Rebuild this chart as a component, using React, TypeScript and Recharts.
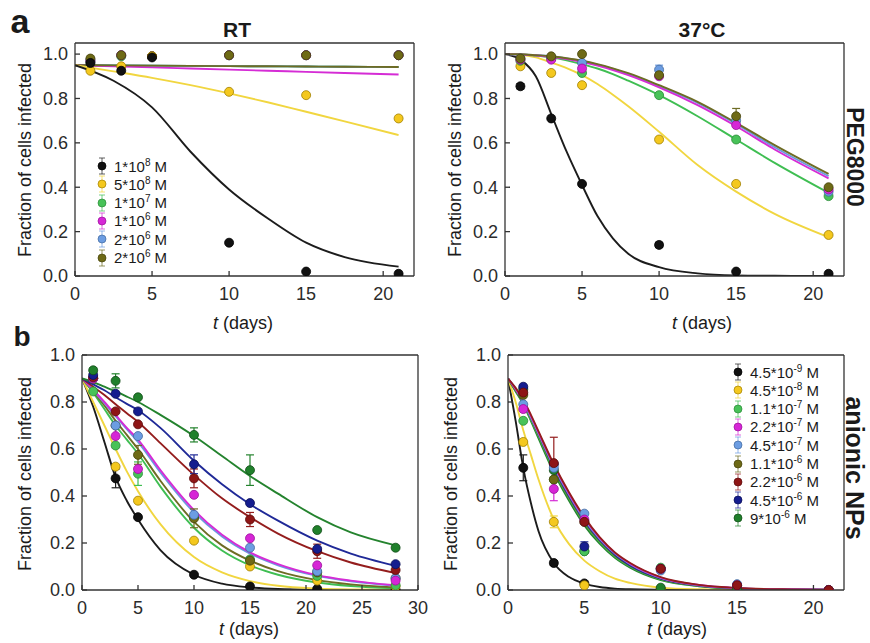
import React from 'react';
import { ComposedChart, Line, Scatter, XAxis, YAxis, ErrorBar } from 'recharts';

const FONT = '"Liberation Sans", Arial, Helvetica, sans-serif';

// ---- panel a, RT ----
const rtDays = [1, 3, 5, 10, 15, 21];
const rtBlack = [0.96, 0.925, 0.985, 0.15, 0.02, 0.01];
const rtYellow = [0.925, 0.945, 0.99, 0.83, 0.815, 0.71];
const rtGreen = [0.965, 0.99, 0.99, 0.995, 0.995, 0.995];
const rtMagenta = [0.97, 0.995, 0.99, 0.995, 0.995, 0.995];
const rtBlue = [0.975, 0.995, 0.99, 0.995, 0.995, 0.995];
const rtOlive = [0.98, 0.995, 0.99, 0.995, 0.995, 0.995];

const rtFitDays = [0, 2.5, 5, 7.5, 10, 12.5, 15, 17.5, 21];
const rtFitBlack = [0.95, 0.88, 0.76, 0.56, 0.39, 0.26, 0.15, 0.085, 0.042];
const rtFitYellow = [0.95, 0.922, 0.893, 0.86, 0.823, 0.783, 0.74, 0.697, 0.635];
const rtFitGreen = [0.95, 0.949, 0.948, 0.947, 0.946, 0.945, 0.944, 0.943, 0.942];
const rtFitMagenta = [0.95, 0.945, 0.94, 0.935, 0.93, 0.925, 0.92, 0.915, 0.908];
const rtFitBlue = [0.95, 0.949, 0.948, 0.947, 0.946, 0.945, 0.944, 0.943, 0.942];
const rtFitOlive = [0.95, 0.949, 0.948, 0.947, 0.946, 0.945, 0.944, 0.943, 0.942];

// ---- panel a, 37°C ----
const hotDays = [1, 3, 5, 10, 15, 21];
const hotBlack = [0.855, 0.71, 0.415, 0.14, 0.02, 0.01];
const hotYellow = [0.945, 0.915, 0.86, 0.615, 0.415, 0.185];
const hotGreen = [0.97, 0.98, 0.915, 0.815, 0.615, 0.36];
const hotMagenta = [0.975, 0.975, 0.935, 0.9, 0.68, 0.39];
const hotBlue = [0.98, 0.985, 0.96, 0.93, 0.7, 0.38];
const hotOlive = [0.98, 0.99, 1.0, 0.905, 0.72, 0.4];
const hotErrBlack = [0.012, 0, 0, 0.012, 0, 0];
const hotErrBlue = [0, 0, 0, 0.02, 0, 0];
const hotErrOlive = [0, 0, 0, 0, 0.035, 0];

const hotFitDays = [0, 1, 2, 3, 4, 5, 6, 7, 8, 10, 12.5, 15, 17.5, 21];
const hotFitBlack = [1.0, 0.975, 0.9, 0.73, 0.56, 0.41, 0.27, 0.17, 0.1, 0.04, 0.012, 0.003, 0.001, 0];
const hotFitYellow = [1.0, 0.997, 0.985, 0.962, 0.937, 0.905, 0.865, 0.817, 0.765, 0.65, 0.5, 0.38, 0.28, 0.175];
const hotFitGreen = [1.0, 0.998, 0.993, 0.985, 0.972, 0.955, 0.935, 0.91, 0.88, 0.815, 0.72, 0.615, 0.51, 0.375];
const hotFitMagenta = [1.0, 0.998, 0.994, 0.988, 0.978, 0.965, 0.948, 0.928, 0.905, 0.85, 0.77, 0.675, 0.57, 0.44];
const hotFitBlue = [1.0, 0.998, 0.995, 0.99, 0.98, 0.968, 0.952, 0.933, 0.91, 0.855, 0.78, 0.685, 0.58, 0.45];
const hotFitOlive = [1.0, 0.999, 0.995, 0.99, 0.981, 0.97, 0.955, 0.936, 0.914, 0.86, 0.785, 0.69, 0.59, 0.46];

// ---- panel b, left ----
const npDays = [1, 3, 5, 10, 15, 21, 28];
const npBlack = [0.9, 0.475, 0.31, 0.065, 0.015, 0.005, 0.0];
const npYellow = [0.9, 0.525, 0.38, 0.21, 0.1, 0.04, 0.015];
const npGreen = [0.845, 0.615, 0.495, 0.31, 0.13, 0.06, 0.02];
const npMagenta = [0.9, 0.655, 0.515, 0.405, 0.22, 0.105, 0.04];
const npBlue = [0.9, 0.7, 0.655, 0.32, 0.18, 0.08, 0.05];
const npOlive = [0.9, 0.7, 0.575, 0.305, 0.125, 0.075, 0.05];
const npRed = [0.905, 0.76, 0.705, 0.475, 0.3, 0.165, 0.085];
const npNavy = [0.915, 0.835, 0.76, 0.535, 0.37, 0.175, 0.11];
const npDkGreen = [0.935, 0.89, 0.82, 0.66, 0.51, 0.255, 0.18];
const npErrBlack = [0, 0.04, 0, 0, 0, 0, 0];
const npErrGreen = [0, 0, 0.05, 0, 0, 0, 0];
const npErrMagenta = [0, 0.05, 0, 0, 0, 0, 0];
const npErrOlive = [0, 0, 0.04, 0.04, 0, 0, 0];
const npErrRed = [0, 0, 0, 0.04, 0.03, 0.03, 0];
const npErrNavy = [0, 0, 0, 0.04, 0, 0, 0];
const npErrDkGreen = [0.01, 0.03, 0, 0.03, 0.065, 0, 0];

const npFitDays = [0, 1, 2, 3, 4, 5, 7, 10, 12.5, 15, 17.5, 21, 24, 28];
const npFitBlack = [0.9, 0.78, 0.63, 0.48, 0.38, 0.3, 0.17, 0.065, 0.027, 0.011, 0.004, 0.001, 0, 0];
const npFitYellow = [0.9, 0.8, 0.7, 0.6, 0.505, 0.42, 0.28, 0.14, 0.075, 0.038, 0.018, 0.006, 0.002, 0.001];
const npFitGreen = [0.9, 0.84, 0.77, 0.7, 0.64, 0.58, 0.44, 0.265, 0.168, 0.105, 0.065, 0.032, 0.017, 0.007];
const npFitOlive = [0.9, 0.845, 0.785, 0.72, 0.66, 0.6, 0.465, 0.29, 0.19, 0.125, 0.08, 0.042, 0.024, 0.011];
const npFitBlue = [0.9, 0.85, 0.795, 0.74, 0.685, 0.63, 0.5, 0.33, 0.228, 0.155, 0.105, 0.06, 0.037, 0.018];
const npFitMagenta = [0.9, 0.852, 0.8, 0.745, 0.69, 0.64, 0.51, 0.34, 0.235, 0.16, 0.11, 0.063, 0.04, 0.02];
const npFitRed = [0.9, 0.865, 0.83, 0.79, 0.752, 0.715, 0.625, 0.49, 0.39, 0.31, 0.24, 0.165, 0.117, 0.072];
const npFitNavy = [0.9, 0.875, 0.85, 0.82, 0.792, 0.765, 0.69, 0.55, 0.45, 0.365, 0.295, 0.21, 0.155, 0.103];
const npFitDkGreen = [0.9, 0.885, 0.865, 0.845, 0.823, 0.8, 0.745, 0.655, 0.57, 0.485, 0.41, 0.31, 0.245, 0.19];

// ---- panel b, right ----
const np2Days = [1, 3, 5, 10, 15, 21];
const np2Black = [0.52, 0.115, 0.028, 0.003, 0.001, 0.0];
const np2Yellow = [0.63, 0.29, 0.02, 0.005, 0.002, 0.0];
const np2Green = [0.72, 0.47, 0.165, 0.095, 0.02, 0.0];
const np2Magenta = [0.77, 0.43, 0.3, 0.09, 0.02, 0.0];
const np2Blue = [0.79, 0.52, 0.325, 0.083, 0.025, 0.0];
const np2Olive = [0.83, 0.47, 0.29, 0.09, 0.02, 0.0];
const np2Red = [0.84, 0.54, 0.29, 0.09, 0.02, 0.0];
const np2Navy = [0.865, 0.535, 0.185, 0.09, 0.02, 0.0];
const np2DkGreen = [0.855, 0.51, 0.165, 0.01, 0.005, 0.0];
const np2ErrBlack = [0.055, 0.01, 0, 0, 0, 0];
const np2ErrYellow = [0, 0.025, 0, 0, 0, 0];
const np2ErrMagenta = [0, 0.05, 0, 0, 0, 0];
const np2ErrRed = [0, 0.11, 0, 0, 0, 0];
const np2ErrNavy = [0, 0, 0.02, 0, 0, 0];

const np2FitDays = [0, 0.5, 1, 1.5, 2, 3, 4, 5, 6, 7, 8, 10, 12.5, 15, 18, 21];
const np2FitBlack = [0.9, 0.72, 0.52, 0.37, 0.25, 0.115, 0.055, 0.027, 0.013, 0.006, 0.003, 0.001, 0, 0, 0, 0];
const np2FitYellow = [0.9, 0.8, 0.68, 0.575, 0.47, 0.3, 0.195, 0.125, 0.08, 0.048, 0.03, 0.01, 0.003, 0.001, 0, 0];
const np2FitGreen = [0.9, 0.85, 0.795, 0.725, 0.655, 0.51, 0.39, 0.285, 0.205, 0.143, 0.1, 0.045, 0.017, 0.006, 0.002, 0];
const np2FitMagenta = [0.9, 0.855, 0.805, 0.74, 0.67, 0.53, 0.41, 0.305, 0.222, 0.158, 0.112, 0.053, 0.021, 0.008, 0.003, 0.001];
const np2FitBlue = [0.9, 0.855, 0.8, 0.735, 0.665, 0.525, 0.405, 0.3, 0.218, 0.155, 0.11, 0.052, 0.02, 0.008, 0.003, 0.001];
const np2FitOlive = [0.9, 0.85, 0.8, 0.73, 0.66, 0.515, 0.395, 0.29, 0.21, 0.147, 0.103, 0.047, 0.018, 0.007, 0.002, 0];
const np2FitRed = [0.9, 0.86, 0.81, 0.745, 0.675, 0.535, 0.415, 0.31, 0.225, 0.16, 0.115, 0.055, 0.022, 0.009, 0.003, 0.001];
const np2FitNavy = [0.9, 0.855, 0.8, 0.735, 0.665, 0.52, 0.4, 0.295, 0.213, 0.15, 0.105, 0.049, 0.019, 0.007, 0.002, 0.001];
const np2FitDkGreen = [0.9, 0.845, 0.79, 0.72, 0.645, 0.5, 0.38, 0.275, 0.197, 0.137, 0.095, 0.042, 0.016, 0.006, 0.002, 0];

// ticks and legends
const xTicksA = [0, 5, 10, 15, 20];
const xTicksB = [0, 5, 10, 15, 20, 25, 30];
const yTicks = [0, 0.2, 0.4, 0.6, 0.8, 1.0];
const legendAMant = ['1', '5', '1', '1', '2', '2'];
const legendAExp = ['8', '8', '7', '6', '6', '6'];
const legendBMant = ['4.5', '4.5', '1.1', '2.2', '4.5', '1.1', '2.2', '4.5', '9'];
const legendBExp = ['-9', '-8', '-7', '-7', '-7', '-6', '-6', '-6', '-6'];

type Col = { fill: string; edge: string; line: string };
const BLACK: Col = { fill: '#111111', edge: '#000000', line: '#1c1c1c' };
const YELLOW: Col = { fill: '#f4c81e', edge: '#a07f00', line: '#f1d640' };
const GREEN: Col = { fill: '#48c258', edge: '#2a8a36', line: '#3fbe52' };
const MAGENTA: Col = { fill: '#d626d6', edge: '#9a109a', line: '#d52cd5' };
const BLUE: Col = { fill: '#6c9de2', edge: '#41689e', line: '#6a9ae0' };
const OLIVE: Col = { fill: '#6e6a16', edge: '#45420a', line: '#6e6c24' };
const RED: Col = { fill: '#8e1616', edge: '#5a0a0a', line: '#941d1d' };
const NAVY: Col = { fill: '#151d8f', edge: '#0a0f55', line: '#1f2997' };
const DKGREEN: Col = { fill: '#20802b', edge: '#104a16', line: '#24832e' };

type Series = { c: Col; fit: number[]; vals: number[]; errs?: number[] };

const rtSeries: Series[] = [
  { c: GREEN, fit: rtFitGreen, vals: rtGreen },
  { c: BLUE, fit: rtFitBlue, vals: rtBlue },
  { c: MAGENTA, fit: rtFitMagenta, vals: rtMagenta },
  { c: OLIVE, fit: rtFitOlive, vals: rtOlive },
  { c: YELLOW, fit: rtFitYellow, vals: rtYellow },
  { c: BLACK, fit: rtFitBlack, vals: rtBlack },
];
const hotSeries: Series[] = [
  { c: BLACK, fit: hotFitBlack, vals: hotBlack, errs: hotErrBlack },
  { c: YELLOW, fit: hotFitYellow, vals: hotYellow },
  { c: GREEN, fit: hotFitGreen, vals: hotGreen },
  { c: BLUE, fit: hotFitBlue, vals: hotBlue, errs: hotErrBlue },
  { c: MAGENTA, fit: hotFitMagenta, vals: hotMagenta },
  { c: OLIVE, fit: hotFitOlive, vals: hotOlive, errs: hotErrOlive },
];
const npSeries: Series[] = [
  { c: BLACK, fit: npFitBlack, vals: npBlack, errs: npErrBlack },
  { c: YELLOW, fit: npFitYellow, vals: npYellow },
  { c: GREEN, fit: npFitGreen, vals: npGreen, errs: npErrGreen },
  { c: OLIVE, fit: npFitOlive, vals: npOlive, errs: npErrOlive },
  { c: BLUE, fit: npFitBlue, vals: npBlue },
  { c: MAGENTA, fit: npFitMagenta, vals: npMagenta, errs: npErrMagenta },
  { c: RED, fit: npFitRed, vals: npRed, errs: npErrRed },
  { c: NAVY, fit: npFitNavy, vals: npNavy, errs: npErrNavy },
  { c: DKGREEN, fit: npFitDkGreen, vals: npDkGreen, errs: npErrDkGreen },
];
const np2Series: Series[] = [
  { c: BLACK, fit: np2FitBlack, vals: np2Black, errs: np2ErrBlack },
  { c: YELLOW, fit: np2FitYellow, vals: np2Yellow, errs: np2ErrYellow },
  { c: DKGREEN, fit: np2FitDkGreen, vals: np2DkGreen },
  { c: GREEN, fit: np2FitGreen, vals: np2Green },
  { c: OLIVE, fit: np2FitOlive, vals: np2Olive },
  { c: NAVY, fit: np2FitNavy, vals: np2Navy, errs: np2ErrNavy },
  { c: BLUE, fit: np2FitBlue, vals: np2Blue },
  { c: MAGENTA, fit: np2FitMagenta, vals: np2Magenta, errs: np2ErrMagenta },
  { c: RED, fit: np2FitRed, vals: np2Red, errs: np2ErrRed },
];

const AXIS = { stroke: '#333', strokeWidth: 1.3 };
const TICK = { fontSize: 18, fill: '#2b2b2b', fontFamily: FONT };

type PanelProps = {
  plot: [number, number, number, number];
  xDomain: [number, number];
  yDomain: [number, number];
  xTicks: number[];
  days: number[];
  fitDays: number[];
  series: Series[];
};

function Panel({ plot, xDomain, yDomain, xTicks, days, fitDays, series }: PanelProps) {
  const [x0, y0, x1, y1] = plot;
  const yw = 60, mt = 9, mr = 9, xh = 30;
  const width = x1 - x0 + yw + 1 + mr;
  const height = y1 - y0 + mt + 1 + xh;
  return (
    <div style={{ position: 'absolute', left: x0 - yw, top: y0 - mt - 1 }}>
      <ComposedChart width={width} height={height} margin={{ top: mt, right: mr, bottom: 0, left: 0 }}>
        <XAxis xAxisId="b" dataKey="t" type="number" domain={xDomain} ticks={xTicks} allowDataOverflow
          height={xh} axisLine={AXIS} tickLine={AXIS} tickSize={-5} tickMargin={16} tick={TICK} interval={0} />
        <XAxis xAxisId="top" orientation="top" type="number" domain={xDomain} ticks={xTicks} allowDataOverflow
          height={1} axisLine={AXIS} tickLine={AXIS} tickSize={-5} tick={false} interval={0} />
        <YAxis yAxisId="l" type="number" domain={yDomain} ticks={yTicks} allowDataOverflow width={yw}
          axisLine={AXIS} tickLine={AXIS} tickSize={-5} tickMargin={12} tick={TICK} interval={0}
          tickFormatter={(v: number) => v.toFixed(1)} />
        <YAxis yAxisId="r" orientation="right" type="number" domain={yDomain} ticks={yTicks} allowDataOverflow
          width={1} axisLine={AXIS} tickLine={AXIS} tickSize={-5} tick={false} interval={0} />
        {series.map((s, i) => (
          <Line key={'l' + i} xAxisId="b" yAxisId="l" data={fitDays.map((t, k) => ({ t, v: s.fit[k] }))}
            dataKey="v" type="monotone" stroke={s.c.line} strokeWidth={1.9} dot={false} activeDot={false}
            isAnimationActive={false} />
        ))}
        {series.map((s, i) => (
          <Scatter key={'s' + i} xAxisId="b" yAxisId="l"
            data={days.map((t, k) => ({ t, v: s.vals[k], e: s.errs ? s.errs[k] : undefined }))}
            dataKey="v" isAnimationActive={false}
            shape={(p: any) => (
              <circle cx={p.cx} cy={p.cy} r={4.5} fill={s.c.fill} stroke={s.c.edge} strokeWidth={0.8} />
            )}>
            {s.errs && <ErrorBar dataKey="e" direction="y" width={4} stroke={s.c.line} strokeWidth={1.2} />}
          </Scatter>
        ))}
      </ComposedChart>
    </div>
  );
}

function Txt({ x, y, size, bold, children }: { x: number; y: number; size: number; bold?: boolean; children: React.ReactNode }) {
  return (
    <div style={{
      position: 'absolute', left: x, top: y - 0.85 * size, transform: 'translateX(-50%)',
      fontSize: size, lineHeight: 1, fontWeight: bold ? 'bold' : 'normal', whiteSpace: 'nowrap', color: '#1a1a1a',
    }}>{children}</div>
  );
}

function VTxt({ x, y, size, bold, angle, children }: { x: number; y: number; size: number; bold?: boolean; angle: number; children: React.ReactNode }) {
  return (
    <div style={{
      position: 'absolute', left: x, top: y, transform: `translate(-50%,-50%) rotate(${angle}deg)`,
      fontSize: size, lineHeight: 1.15, fontWeight: bold ? 'bold' : 'normal', whiteSpace: 'nowrap', color: '#1a1a1a',
    }}>{children}</div>
  );
}

function LegendBox({ x, y, cols, mant, exp }: { x: number; y: number; cols: Col[]; mant: string[]; exp: string[] }) {
  return (
    <div style={{ position: 'absolute', left: x, top: y }}>
      {cols.map((c, i) => (
        <div key={i} style={{ position: 'absolute', left: 0, top: i * 18.3, height: 18, display: 'flex', alignItems: 'center', whiteSpace: 'nowrap' }}>
          <svg width={14} height={18} style={{ marginRight: 5 }}>
            <line x1={7} x2={7} y1={1} y2={17} stroke={c.line} strokeOpacity={0.7} strokeWidth={1} />
            <line x1={4} x2={10} y1={1} y2={1} stroke={c.line} strokeOpacity={0.7} strokeWidth={1} />
            <line x1={4} x2={10} y1={17} y2={17} stroke={c.line} strokeOpacity={0.7} strokeWidth={1} />
            <circle cx={7} cy={9} r={4} fill={c.fill} stroke={c.edge} strokeWidth={0.7} />
          </svg>
          <span style={{ fontSize: 15, color: '#1a1a1a' }}>
            {mant[i]}*10<span style={{ fontSize: 10, position: 'relative', top: -6 }}>{exp[i]}</span> M
          </span>
        </div>
      ))}
    </div>
  );
}

const days = (
  <>
    <span style={{ fontStyle: 'italic' }}>t</span> (days)
  </>
);

export default function App() {
  return (
    <div style={{ position: 'absolute', left: 0, top: 0, width: 870, height: 643, overflow: 'hidden', background: '#fff', fontFamily: FONT }}>
      <Panel plot={[75, 43, 414, 276]} xDomain={[0, 22]} yDomain={[0, 1.05]} xTicks={xTicksA}
        days={rtDays} fitDays={rtFitDays} series={rtSeries} />
      <Panel plot={[505, 43, 844, 276]} xDomain={[0, 22]} yDomain={[0, 1.05]} xTicks={xTicksA}
        days={hotDays} fitDays={hotFitDays} series={hotSeries} />
      <Panel plot={[82, 355, 418, 590]} xDomain={[0, 30]} yDomain={[0, 1]} xTicks={xTicksB}
        days={npDays} fitDays={npFitDays} series={npSeries} />
      <Panel plot={[508, 355, 844, 590]} xDomain={[0, 22]} yDomain={[0, 1]} xTicks={xTicksA}
        days={np2Days} fitDays={np2FitDays} series={np2Series} />

      <LegendBox x={95} y={157} cols={[BLACK, YELLOW, GREEN, MAGENTA, BLUE, OLIVE]} mant={legendAMant} exp={legendAExp} />
      <LegendBox x={731} y={363} cols={[BLACK, YELLOW, GREEN, MAGENTA, BLUE, OLIVE, RED, NAVY, DKGREEN]} mant={legendBMant} exp={legendBExp} />

      <Txt x={20} y={33} size={34} bold>a</Txt>
      <Txt x={22} y={347} size={28} bold>b</Txt>
      <Txt x={237} y={37} size={21} bold>RT</Txt>
      <Txt x={702} y={37} size={21} bold>37°C</Txt>
      <Txt x={243} y={329} size={18}>{days}</Txt>
      <Txt x={702} y={329} size={18}>{days}</Txt>
      <Txt x={249} y={635} size={18}>{days}</Txt>
      <Txt x={677} y={635} size={18}>{days}</Txt>
      <VTxt x={25} y={160} size={18} angle={-90}>Fraction of cells infected</VTxt>
      <VTxt x={455} y={160} size={18} angle={-90}>Fraction of cells infected</VTxt>
      <VTxt x={25} y={474} size={18} angle={-90}>Fraction of cells infected</VTxt>
      <VTxt x={451} y={474} size={18} angle={-90}>Fraction of cells infected</VTxt>
      <VTxt x={855} y={157} size={23} bold angle={90}>PEG8000</VTxt>
      <VTxt x={855} y={468} size={25} bold angle={90}>anionic NPs</VTxt>
    </div>
  );
}
